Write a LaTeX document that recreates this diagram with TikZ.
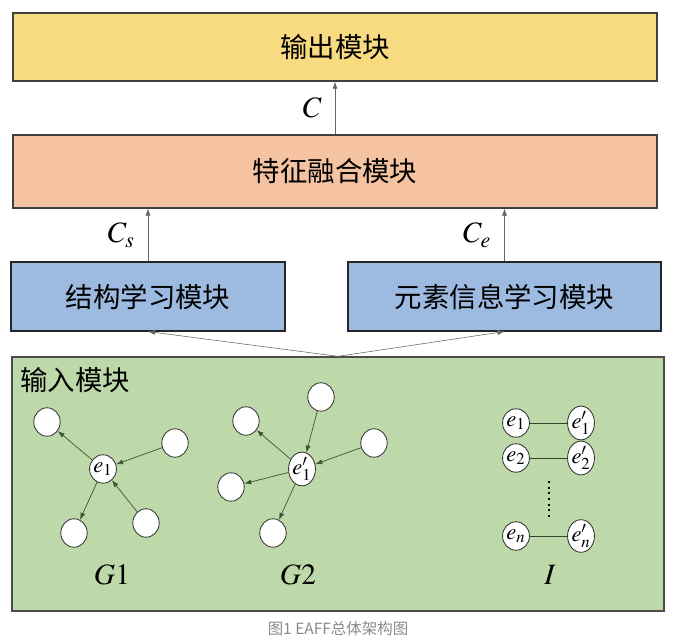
\documentclass[tikz,border=0pt]{standalone}
\usepackage{mathptmx}
\usepackage{fontspec}
\setmainfont{Liberation Serif}
\newfontfamily\cjk{Noto Sans CJK SC}
\usetikzlibrary{arrows.meta,shapes.geometric}

\definecolor{outyellow}{HTML}{F8DA80}
\definecolor{fusesalmon}{HTML}{F5C2A2}
\definecolor{learnblue}{HTML}{9DBBE0}
\definecolor{inputgreen}{HTML}{BDD9A9}
\definecolor{edgegreen}{HTML}{3D5535}
\definecolor{captiongray}{HTML}{8A8A8A}

\tikzset{
  module/.style={draw=black!75, line width=0.9pt, inner sep=0pt,
    font=\cjk\fontsize{19.5}{22}\selectfont},
  vertex/.style={ellipse, draw=black!80, fill=white, line width=0.6pt,
    minimum width=0.66cm, minimum height=0.71cm, inner sep=0pt,
    font=\fontsize{16}{17}\selectfont},
  flow/.style={-{Latex[length=5pt,width=3.6pt]}, black!60, line width=0.4pt},
  link/.style={-{Latex[length=5pt,width=3.6pt]}, edgegreen, line width=0.5pt},
  lab/.style={text=black, font=\fontsize{21}{24}\selectfont}
}

\begin{document}
\begin{tikzpicture}[x=0.025cm,y=-0.025cm]
\useasboundingbox (0,0) rectangle (676,642);

% Draw the module boxes
\node[module, fill=outyellow, minimum width=16.1cm, minimum height=1.7cm] (out) at (335,47) {输出模块};
\node[module, fill=fusesalmon, minimum width=16.1cm, minimum height=1.82cm] (fuse) at (335,171.5) {特征融合模块};
\node[module, fill=learnblue, draw=black!85, minimum width=6.85cm, minimum height=1.72cm] (struct) at (148,296.5) {结构学习模块};
\node[module, fill=learnblue, draw=black!85, minimum width=7.82cm, minimum height=1.72cm] (elem) at (504.5,296.5) {元素信息学习模块};
\node[module, fill=inputgreen, draw=black!70, minimum width=16.3cm, minimum height=6.35cm] (input) at (338,484) {};
\node[anchor=west, inner sep=0pt, font=\cjk\fontsize{19.5}{22}\selectfont] (intitle) at (20,380) {输入模块};

% Draw the arrows between modules
\draw[flow] (fuse.north) -- (out.south) node[midway, left=6pt, lab] {$C$};
\draw[flow] (struct.north) -- (struct.north |- fuse.south) node[midway, left=6pt, lab] {$C_s$};
\draw[flow] (elem.north) -- (elem.north |- fuse.south) node[midway, left=6pt, lab] {$C_e$};
\draw[flow] (input.north) -- (struct.south);
\draw[flow] (input.north) -- (elem.south);

% Graph G1
\node[vertex] (ga) at (103,469) {$e_1$};
\node[vertex] (ga1) at (47,422) {};
\node[vertex] (ga2) at (175,443) {};
\node[vertex] (ga3) at (74,533) {};
\node[vertex] (ga4) at (146,523) {};
\draw[link] (ga) -- (ga1);
\draw[link] (ga2) -- (ga);
\draw[link] (ga) -- (ga3);
\draw[link] (ga4) -- (ga);
\node[lab] (glabA) at (112,575) {$G1$};

% Graph G2
\node[vertex] (gb) at (302,469) {$e'_1$};
\node[vertex] (gb1) at (246,421) {};
\node[vertex] (gb2) at (321,397) {};
\node[vertex] (gb3) at (374,443) {};
\node[vertex] (gb4) at (231,487) {};
\node[vertex] (gb5) at (273,533) {};
\draw[link] (gb) -- (gb1);
\draw[link] (gb2) -- (gb);
\draw[link] (gb3) -- (gb);
\draw[link] (gb) -- (gb4);
\draw[link] (gb) -- (gb5);
\node[lab] (glabB) at (298,575) {$G2$};

% Alignment pairs I
\node[vertex] (pa) at (516,423) {$e_1$};
\node[vertex] (pb) at (581,423) {$e'_1$};
\node[vertex] (qa) at (516,458) {$e_2$};
\node[vertex] (qb) at (581,458) {$e'_2$};
\node[vertex] (ra) at (516,536) {$e_n$};
\node[vertex] (rb) at (581,536) {$e'_n$};
\draw[edgegreen!80!black, line width=0.5pt] (pa) -- (pb);
\draw[edgegreen!80!black, line width=0.5pt] (qa) -- (qb);
\draw[edgegreen!80!black, line width=0.5pt] (ra) -- (rb);
\draw[black, line width=1.5pt, dash pattern=on 1.5pt off 2.5pt] (549,481) -- (549,517);
\node[lab] (ilab) at (550,575) {$I$};

% Caption
\node[font=\cjk\fontsize{11}{13}\selectfont, text=captiongray] (cap) at (338,629) {图1 EAFF总体架构图};
\end{tikzpicture}
\end{document}
